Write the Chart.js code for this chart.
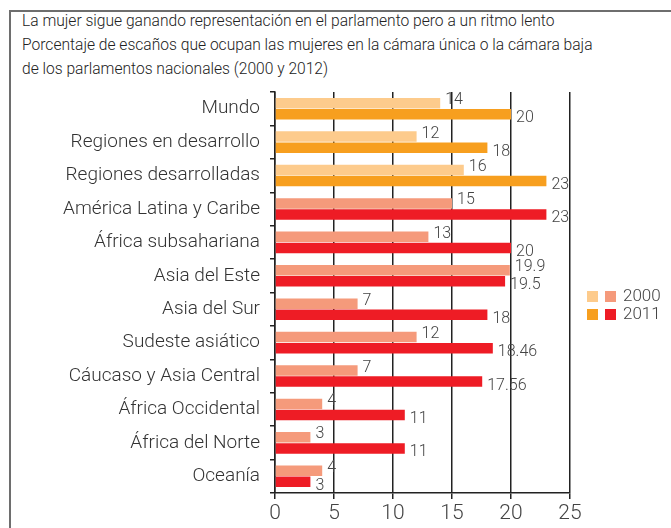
<!DOCTYPE html>
<html>
<head>
<meta charset="utf-8">
<script src="https://cdn.jsdelivr.net/npm/chart.js@4"></script>
<style>
    html, body { margin: 0; padding: 0; background: #fff; }
    #wrap { position: relative; width: 671px; height: 528px; overflow: hidden; }
    #frame {
        position: absolute; left: 9px; top: 10px; width: 700px; height: 600px;
        border-top: 2px solid #6e6e6e; border-left: 2px solid #6e6e6e;
    }
    #title {
        position: absolute; left: 22px; top: 9px;
        font-family: Roboto, sans-serif; font-weight: 300; font-size: 15.6px; line-height: 24px; color: #222;
    }
    canvas { position: absolute; left: 0; top: 0; }
</style>
</head>
<body>
<div id="wrap">
    <div id="frame"></div>
    <div id="title">La mujer sigue ganando representación en el parlamento pero a un ritmo lento<br>Porcentaje de escaños que ocupan las mujeres en la cámara única o la cámara baja<br>de los parlamentos nacionales (2000 y 2012)</div>
    <canvas id="c" width="671" height="528"></canvas>
</div>
<script>
// datos
const regiones = [
    'Mundo', 'Regiones en desarrollo', 'Regiones desarrolladas', 'América Latina y Caribe',
    'África subsahariana', 'Asia del Este', 'Asia del Sur', 'Sudeste asiático',
    'Cáucaso y Asia Central', 'África Occidental', 'África del Norte', 'Oceanía',
];
const anios = ['2000', '2011'];
const valores2000 = [14, 12, 16, 15, 13, 19.9, 7, 12, 7, 4, 3, 4];
const valores2011 = [20, 18, 23, 23, 20, 19.5, 18, 18.46, 17.56, 11, 11, 3];
const ticksX = [0, 5, 10, 15, 20, 25];

// primeras 3 filas son agregados (tonos naranja), el resto regiones (rojos)
const nAgregados = 3;
const COL = {
    claroNar: '#fdcb8c', nar: '#f79f1f',
    claroRojo: '#f59a7b', rojo: '#ee1c25',
};
const colores2000 = regiones.map((_, i) => (i < nAgregados ? COL.claroNar : COL.claroRojo));
const colores2011 = regiones.map((_, i) => (i < nAgregados ? COL.nar : COL.rojo));

const FONT = 'Roboto, sans-serif';

const valueLabels = {
    id: 'valueLabels',
    afterDatasetsDraw(chart) {
        const { ctx } = chart;
        ctx.save();
        ctx.fillStyle = '#444';
        ctx.font = '300 16px ' + FONT;
        ctx.textAlign = 'left';
        ctx.textBaseline = 'middle';
        chart.data.datasets.forEach((ds, di) => {
            const meta = chart.getDatasetMeta(di);
            meta.data.forEach((bar, i) => {
                const dy = di === 0 ? -3 : 4;
                ctx.fillText(String(ds.data[i]), bar.x + 5, bar.y + dy);
            });
        });
        ctx.restore();
    },
};

const legendaDoble = {
    id: 'legendaDoble',
    afterDraw(chart) {
        const { ctx } = chart;
        ctx.save();
        ctx.font = '300 17px ' + FONT;
        ctx.textBaseline = 'middle';
        const filas = [
            [COL.claroNar, COL.claroRojo],
            [COL.nar, COL.rojo],
        ];
        filas.forEach((par, r) => {
            const y = 291 + r * 18;
            ctx.fillStyle = par[0];
            ctx.fillRect(587, y, 11, 11);
            ctx.fillStyle = par[1];
            ctx.fillRect(605, y, 11, 11);
            ctx.fillStyle = '#444';
            ctx.fillText(anios[r], 623, y + 6);
        });
        ctx.restore();
    },
};

new Chart(document.getElementById('c'), {
    type: 'bar',
    data: {
        labels: regiones,
        datasets: [
            { label: anios[0], data: valores2000, backgroundColor: colores2000, barPercentage: 0.95, categoryPercentage: 0.66 },
            { label: anios[1], data: valores2011, backgroundColor: colores2011, barPercentage: 0.95, categoryPercentage: 0.66 },
        ],
    },
    options: {
        indexAxis: 'y',
        animation: false,
        responsive: false,
        devicePixelRatio: 1,
        layout: { padding: { top: 92, right: 101, left: 0, bottom: 0 } },
        plugins: { legend: { display: false }, tooltip: { enabled: false } },
        scales: {
            x: {
                min: 0,
                max: 25,
                afterBuildTicks(s) { s.ticks = ticksX.map((v) => ({ value: v })); },
                afterFit(s) { s.height = 35; },
                grid: { color: '#222', lineWidth: 1.5, tickLength: 6, drawOnChartArea: true },
                border: { color: '#222', width: 1.5 },
                ticks: { color: '#444', font: { size: 21, weight: '300', family: FONT }, padding: 2 },
            },
            y: {
                afterFit(s) { s.width = 275; },
                grid: { display: true, drawOnChartArea: false, tickLength: 5, color: '#222', lineWidth: 1.5 },
                border: { color: '#222', width: 1.5 },
                ticks: { color: '#333', font: { size: 19, weight: '300', family: FONT }, padding: 10, autoSkip: false },
            },
        },
    },
    plugins: [valueLabels, legendaDoble],
});
</script>
</body>
</html>
